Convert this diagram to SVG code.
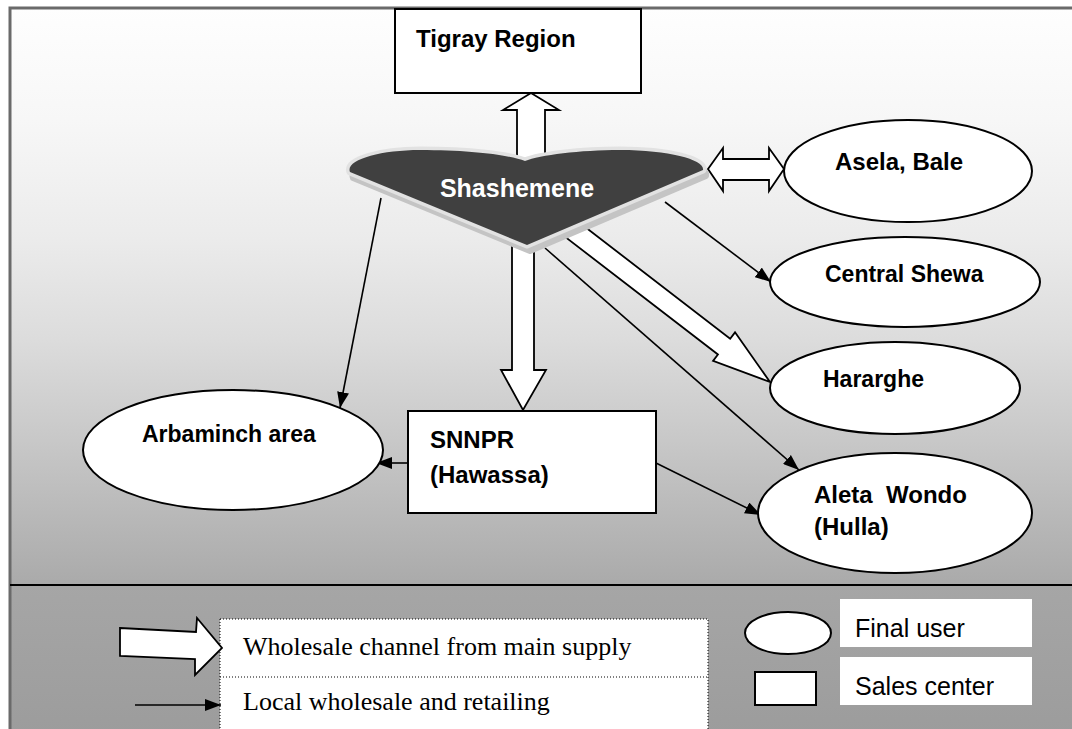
<svg xmlns="http://www.w3.org/2000/svg" width="1072" height="729" viewBox="0 0 1072 729">
<defs>
<linearGradient id="topbg" x1="0" y1="0" x2="0" y2="1">
<stop offset="0" stop-color="#fefefe"/>
<stop offset="0.194" stop-color="#f7f7f7"/>
<stop offset="0.402" stop-color="#ebebeb"/>
<stop offset="0.575" stop-color="#dcdcdc"/>
<stop offset="0.749" stop-color="#c8c8c8"/>
<stop offset="1" stop-color="#aaaaaa"/>
</linearGradient>
<linearGradient id="botbg" x1="0" y1="0" x2="0" y2="1">
<stop offset="0" stop-color="#a6a6a6"/>
<stop offset="1" stop-color="#9c9c9c"/>
</linearGradient>
<marker id="ah" viewBox="0 0 16 12" refX="16" refY="6" markerWidth="16" markerHeight="12" markerUnits="userSpaceOnUse" orient="auto">
<path d="M0,0 L16,6 L0,12 Z" fill="#000"/>
</marker>
</defs>
<style>
.nb{fill:#fff;stroke:#000;stroke-width:2}
.lbl{font-family:"Liberation Sans",Arial,sans-serif;font-weight:bold;font-size:24px;fill:#000;white-space:pre}
.blk{fill:#fff;stroke:#000;stroke-width:1.8;stroke-linejoin:miter}
.thin{stroke:#000;stroke-width:1.6;fill:none;marker-end:url(#ah)}
.leg{font-family:"Liberation Serif","Times New Roman",serif;font-size:26px;fill:#000}
.leg2{font-family:"Liberation Sans",Arial,sans-serif;font-size:25px;fill:#000}
</style>
<rect x="0" y="0" width="1072" height="729" fill="#fff"/>
<rect x="10" y="8" width="1070" height="577" fill="url(#topbg)"/>
<rect x="10" y="585" width="1070" height="150" fill="url(#botbg)"/>
<path d="M10,740 L10,8 L1080,8" fill="none" stroke="#6a6a6a" stroke-width="3"/>
<line x1="10" y1="585" x2="1072" y2="585" stroke="#000" stroke-width="2.2"/>

<g id="connectors">
<polygon class="blk" points="531,93 559,110 545,110 545,162 517,162 517,110 503,110"/>
<polygon class="blk" points="512,240 534,240 534,370 546,370 523,410 501,370 512,370"/>
<polygon class="blk" points="708,169 723,148 723,159 769,159 769,148 784,169 769,191 769,180 723,180 723,191"/>
<g transform="translate(770,382) rotate(37.6)"><polygon class="blk" points="0,0 -58,-18 -58,-10 -250,-10 -250,10 -58,10 -58,18"/></g>
<line class="thin" x1="381" y1="198" x2="340" y2="408"/>
<line class="thin" x1="665" y1="202" x2="771" y2="282"/>
<line class="thin" x1="545" y1="248" x2="799" y2="470"/>
<line class="thin" x1="408" y1="463" x2="376" y2="463"/>
<line class="thin" x1="656" y1="463" x2="761" y2="515"/>
</g>

<g id="shashemene">
<path d="M350,172 C345,160 380,150 420,150 C470,150 510,155 525,161 C540,155 580,150 620,150 C670,150 705,160 703,170 L527,245 Z" transform="translate(3,6)" fill="#c4c4c4" stroke="#c4c4c4" stroke-width="6" stroke-linejoin="round"/>
<path d="M350,172 C345,160 380,150 420,150 C470,150 510,155 525,161 C540,155 580,150 620,150 C670,150 705,160 703,170 L527,245 Z" fill="#404040" stroke="#e2e2e2" stroke-width="7" stroke-linejoin="round"/>
<path d="M350,172 C345,160 380,150 420,150 C470,150 510,155 525,161 C540,155 580,150 620,150 C670,150 705,160 703,170 L527,245 Z" fill="#404040"/>
<text class="lbl" x="517" y="197" text-anchor="middle" style="font-size:25px;fill:#fff">Shashemene</text>
</g>

<g id="tigray">
<rect class="nb" x="395" y="9" width="246" height="84"/>
<text class="lbl" x="416" y="47">Tigray Region</text>
</g>

<g id="asela">
<ellipse class="nb" cx="908" cy="171" rx="124" ry="51"/>
<text class="lbl" x="835" y="170">Asela, Bale</text>
</g>

<g id="central-shewa">
<ellipse class="nb" cx="905" cy="282" rx="135" ry="45"/>
<text class="lbl" x="825" y="282" style="font-size:23px">Central Shewa</text>
</g>

<g id="hararghe">
<ellipse class="nb" cx="895" cy="388" rx="125" ry="46"/>
<text class="lbl" x="823" y="387" style="font-size:23px">Hararghe</text>
</g>

<g id="aleta-wondo">
<ellipse class="nb" cx="895" cy="513" rx="137" ry="60"/>
<text class="lbl" x="814" y="503">Aleta  Wondo</text>
<text class="lbl" x="814" y="535">(Hulla)</text>
</g>

<g id="arbaminch">
<ellipse class="nb" cx="233" cy="450" rx="150" ry="60"/>
<text class="lbl" x="142" y="442" style="font-size:23px">Arbaminch area</text>
</g>

<g id="snnpr">
<rect class="nb" x="408" y="411" width="248" height="102"/>
<text class="lbl" x="430" y="448">SNNPR</text>
<text class="lbl" x="430" y="483">(Hawassa)</text>
</g>

<g id="legend">
<rect x="220" y="619" width="488" height="120" fill="#fff" stroke="#000" stroke-width="1" stroke-dasharray="1,2"/>
<line x1="220" y1="677" x2="708" y2="677" stroke="#000" stroke-width="1" stroke-dasharray="1,2"/>
<polygon class="blk" points="120,628 196,632 197,618 222,648 195,675 195,659 120,656"/>
<line class="thin" x1="135" y1="705" x2="221" y2="705"/>
<text class="leg" x="243" y="655">Wholesale channel from main supply</text>
<text class="leg" x="243" y="710">Local wholesale and retailing</text>
<ellipse class="nb" cx="788" cy="633" rx="43" ry="21"/>
<rect class="nb" x="755" y="672" width="61" height="33"/>
<rect x="840" y="599" width="192" height="48" fill="#fff"/>
<rect x="840" y="657" width="192" height="48" fill="#fff"/>
<text class="leg2" x="855" y="637">Final user</text>
<text class="leg2" x="855" y="695">Sales center</text>
</g>
</svg>
